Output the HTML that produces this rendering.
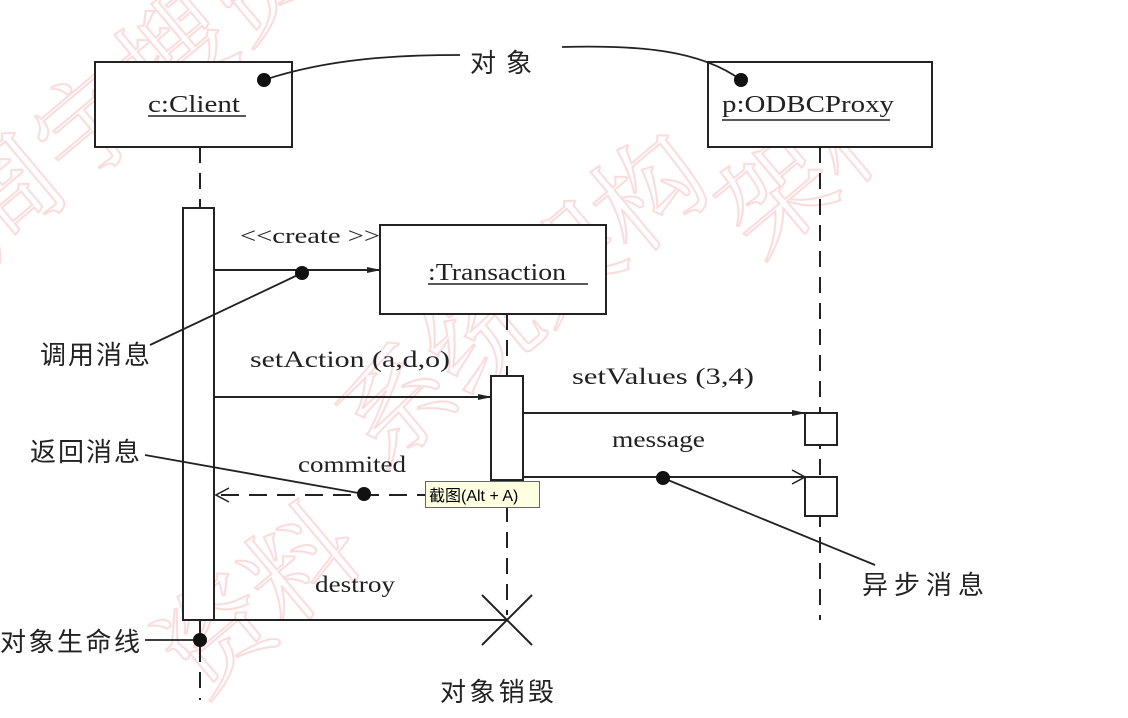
<!DOCTYPE html>
<html><head><meta charset="utf-8"><style>
html,body{margin:0;padding:0;background:#fff;overflow:hidden;width:1128px;height:718px;}
svg{display:block;}
text{font-family:"Liberation Serif","Noto Serif CJK SC",serif;fill:#222;}
.cn{font-family:"Liberation Sans","Noto Sans CJK SC",sans-serif;}
</style></head><body>
<svg width="1128" height="718" viewBox="0 0 1128 718" xmlns="http://www.w3.org/2000/svg">
<defs>
<clipPath id="cp"><rect x="0" y="0" width="1128" height="718"/></clipPath>
<marker id="fa" markerWidth="14" markerHeight="8" refX="13" refY="4" orient="auto" markerUnits="userSpaceOnUse"><path d="M0,1 L14,4 L0,7 Z" fill="#222"/></marker>
<marker id="oa" markerWidth="16" markerHeight="16" refX="15" refY="8" orient="auto" markerUnits="userSpaceOnUse"><path d="M2,1 L15,8 L2,15" fill="none" stroke="#222" stroke-width="1.5"/></marker>
</defs>
<g clip-path="url(#cp)">
<g font-size="110" class="cn" opacity="0.3">
<text x="-10" y="260" transform="rotate(-40 -10 260)" style="fill:none;stroke:#e88;stroke-width:2">周宇搜资</text>
<text x="380" y="470" transform="rotate(-40 380 470)" style="fill:none;stroke:#e88;stroke-width:2">系统架构</text>
<text x="200" y="700" transform="rotate(-40 200 700)" style="fill:none;stroke:#e88;stroke-width:2">资料</text>
<text x="760" y="260" transform="rotate(-40 760 260)" style="fill:none;stroke:#e88;stroke-width:2">架构</text>
</g>
</g>
<g stroke="#222" stroke-width="2" fill="none">
<rect x="95" y="62" width="197" height="85" fill="#fff"/>
<rect x="708" y="62" width="224" height="85" fill="#fff"/>
<rect x="380" y="225" width="226" height="89" fill="#fff"/>
<line x1="200" y1="147" x2="200" y2="208" stroke-dasharray="16,10"/>
<line x1="200" y1="620" x2="200" y2="700" stroke-dasharray="16,10"/>
<line x1="507" y1="314" x2="507" y2="376" stroke-dasharray="16,10"/>
<line x1="507" y1="480" x2="507" y2="615" stroke-dasharray="16,10"/>
<line x1="820" y1="147" x2="820" y2="620" stroke-dasharray="16,10"/>
<rect x="183" y="208" width="31" height="412" fill="#fff"/>
<rect x="491" y="376" width="32" height="104" fill="#fff"/>
<rect x="805" y="413" width="32" height="32" fill="#fff"/>
<rect x="805" y="477" width="32" height="39" fill="#fff"/>
<line x1="214" y1="270" x2="380" y2="270" marker-end="url(#fa)"/>
<line x1="214" y1="397" x2="491" y2="397" marker-end="url(#fa)"/>
<line x1="523" y1="413" x2="805" y2="413" marker-end="url(#fa)"/>
<line x1="523" y1="477" x2="805" y2="477" marker-end="url(#oa)"/>
<line x1="491" y1="495" x2="216" y2="495" stroke-dasharray="18,10" marker-end="url(#oa)"/>
<line x1="214" y1="620" x2="507" y2="620"/>
<line x1="482" y1="595" x2="532" y2="645"/>
<line x1="532" y1="595" x2="482" y2="645"/>
<path d="M264,80 C330,58 400,55 460,55" stroke-width="1.8"/>
<path d="M562,47 C640,45 700,50 741,80" stroke-width="1.8"/>
<line x1="302" y1="273" x2="150" y2="345" stroke-width="1.8"/>
<line x1="364" y1="494" x2="145" y2="455" stroke-width="1.8"/>
<line x1="663" y1="478" x2="875" y2="565" stroke-width="1.8"/>
<line x1="145" y1="640" x2="200" y2="640" stroke-width="1.8"/>
<line x1="148" y1="116" x2="246" y2="116" stroke-width="1.5"/>
<line x1="722" y1="120" x2="890" y2="120" stroke-width="1.5"/>
<line x1="428" y1="284" x2="588" y2="284" stroke-width="1.5"/>
</g>
<g fill="#111">
<circle cx="264" cy="80" r="7"/><circle cx="741" cy="80" r="7"/>
<circle cx="302" cy="273" r="7"/><circle cx="364" cy="494" r="7"/>
<circle cx="663" cy="478" r="7"/><circle cx="200" cy="640" r="7"/>
</g>
<g font-size="24">
<text x="148" y="112" textLength="92" lengthAdjust="spacingAndGlyphs">c:Client</text>
<text x="722" y="112" textLength="172" lengthAdjust="spacingAndGlyphs">p:ODBCProxy</text>
<text x="428" y="280" textLength="138" lengthAdjust="spacingAndGlyphs">:Transaction</text>
<text x="240" y="243" font-size="22" textLength="140" lengthAdjust="spacingAndGlyphs">&lt;&lt;create &gt;&gt;</text>
<text x="250" y="367" font-size="23" textLength="200" lengthAdjust="spacingAndGlyphs">setAction  (a,d,o)</text>
<text x="572" y="384" font-size="23" textLength="182" lengthAdjust="spacingAndGlyphs">setValues  (3,4)</text>
<text x="612" y="447" font-size="23" textLength="93" lengthAdjust="spacingAndGlyphs">message</text>
<text x="298" y="472" font-size="23" textLength="108" lengthAdjust="spacingAndGlyphs">commited</text>
<text x="315" y="592" font-size="23" textLength="80" lengthAdjust="spacingAndGlyphs">destroy</text>
</g>
<g font-size="26">
<text class="cn" x="470" y="72" textLength="62">对象</text>
<text class="cn" x="40" y="364" textLength="110">调用消息</text>
<text class="cn" x="30" y="461" textLength="110">返回消息</text>
<text class="cn" x="862" y="594" textLength="122">异步消息</text>
<text class="cn" x="0" y="651" textLength="140">对象生命线</text>
<text class="cn" x="440" y="701" textLength="114">对象销毁</text>
</g>
<rect x="425.5" y="481.5" width="114" height="26" fill="#ffffe1" stroke="#666"/>
<text class="cn" x="429" y="501" font-size="16" style="fill:#000">截图(Alt + A)</text>
</svg>
</body></html>
